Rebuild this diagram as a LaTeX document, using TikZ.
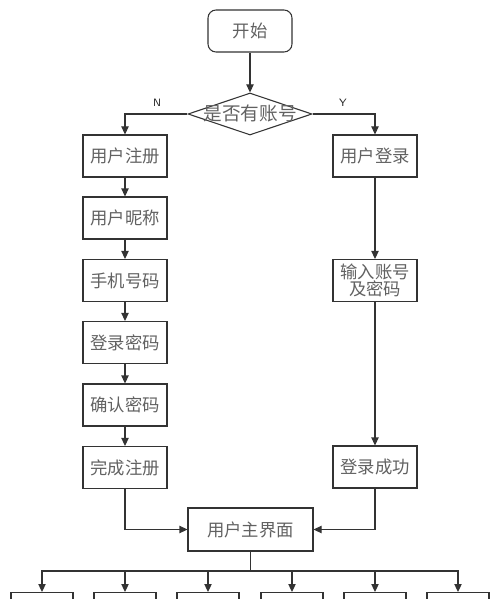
\documentclass[tikz,border=0pt]{standalone}
\usepackage{fontspec}
\newfontfamily\cjk{Noto Sans CJK SC}
\usetikzlibrary{shapes.geometric,arrows.meta}
\begin{document}
\begin{tikzpicture}[x=0.75pt,y=-0.75pt,
  line/.style={draw=black!80,line width=0.8pt},
  arr/.style={line,-{Triangle[length=6pt,width=5.5pt]}},
  box/.style={draw=black!80,line width=0.8pt,rectangle,minimum width=84*0.75pt,minimum height=42*0.75pt,inner sep=0pt,font=\cjk\fontsize{13}{15}\selectfont,text=black!62},
  rbox/.style={box,rounded corners=6pt},
  dia/.style={draw=black!80,line width=0.8pt,diamond,aspect=2.95,minimum width=124*0.75pt,minimum height=42*0.75pt,inner sep=0pt,font=\cjk\fontsize{14}{16}\selectfont,text=black!62},
  lbl/.style={font=\sffamily\fontsize{8}{9}\selectfont,text=black!85},
  small/.style={draw=black!80,line width=0.8pt,rectangle,minimum width=62*0.75pt,minimum height=30*0.75pt,inner sep=0pt,anchor=north}
]
\useasboundingbox (0,0) rectangle (500,599);
\clip (0,0) rectangle (500,599);
\node[rbox] (start) at (250,31) {开始};
\node[dia] (q) at (250,114) {};
\node[font=\cjk\fontsize{14}{16}\selectfont,text=black!62] at (250,113) {是否有账号};
\node[lbl] at (157,103) {N};
\node[lbl] at (343,103) {Y};
\node[box] (r1) at (125,156) {用户注册};
\node[box] (r2) at (125,218) {用户昵称};
\node[box] (r3) at (125,280.5) {手机号码};
\node[box] (r4) at (125,342.5) {登录密码};
\node[box] (r5) at (125,405) {确认密码};
\node[box] (r6) at (125,467.5) {完成注册};
\node[box] (l1) at (375,156) {用户登录};
\node[box,align=center,font=\cjk\fontsize{13}{15}\selectfont] (l2) at (375,280.5) {输入账号\\[-2pt]及密码};
\node[box] (l3) at (375,467) {登录成功};
\node[box,minimum width=125*0.75pt,minimum height=43*0.75pt] (main) at (250.5,529.5) {用户主界面};
\coordinate (hub) at (250.5,571);
\foreach \i/\x in {1/42,2/125,3/208,4/292,5/375,6/458}{
  \node[small] (b\i) at (\x,592) {};
}
\draw[arr] (start) -- (q);
\draw[arr] (q.west) -| (r1.north);
\draw[arr] (q.east) -| (l1.north);
\draw[arr] (r1) -- (r2);
\draw[arr] (r2) -- (r3);
\draw[arr] (r3) -- (r4);
\draw[arr] (r4) -- (r5);
\draw[arr] (r5) -- (r6);
\draw[arr] (l1) -- (l2);
\draw[arr] (l2) -- (l3);
\draw[arr] (r6.south) |- (main.west);
\draw[arr] (l3.south) |- (main.east);
\draw[line] (main.south) -- (hub);
\foreach \i in {1,...,6}{
  \draw[arr] (hub) -| (b\i.north);
}
\end{tikzpicture}
\end{document}
